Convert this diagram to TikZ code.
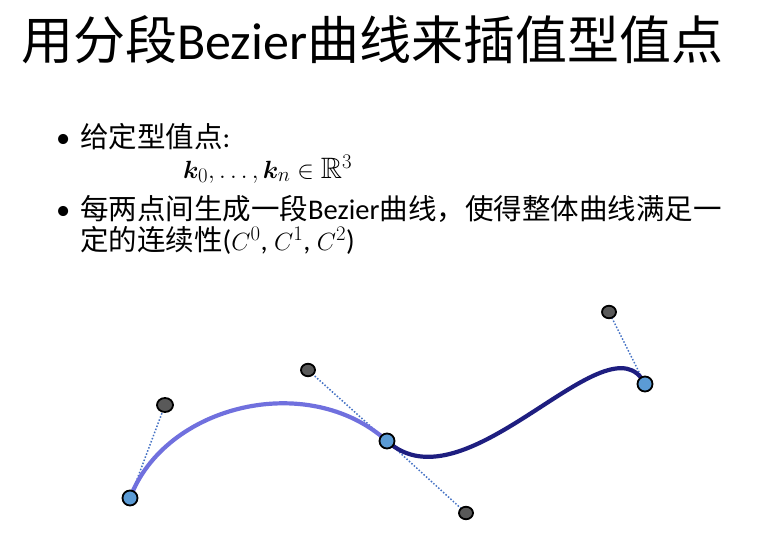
\documentclass[tikz,border=0pt]{standalone}
\usepackage{amsmath}
\usepackage{amssymb}
\usepackage{bm}
\usepackage{fontspec}
\setmainfont{Carlito}
\newfontfamily\cjk{Noto Sans CJK SC}
\usepackage{xcolor}
\definecolor{segLight}{HTML}{7070DE}
\definecolor{segDark}{HTML}{1E1E80}
\definecolor{knotBlue}{HTML}{5B9BD5}
\definecolor{ctrlGray}{HTML}{595959}
\definecolor{handleBlue}{HTML}{4472C4}
\usepackage{tikz}
\usetikzlibrary{shapes.geometric}

\begin{document}
\begin{tikzpicture}[x=1pt, y=-1pt,
    knot/.style={circle, draw=black, line width=1.8pt, fill=knotBlue, minimum size=15pt, inner sep=0pt},
    ctrl/.style={ellipse, draw=black, line width=1.8pt, fill=ctrlGray, minimum width=14pt, minimum height=12.5pt, inner sep=0pt},
    handle/.style={handleBlue, line width=1.5pt, dash pattern=on 1.5pt off 1.8pt},
    bodytext/.style={anchor=base west, inner sep=0pt, font=\fontsize{28.5}{31}\selectfont}]
  \useasboundingbox (0,0) rectangle (780,549);
  % title
  \node[anchor=base west, inner sep=0pt, font=\fontsize{52}{52}\selectfont] (title) at (21,59)
    {{\cjk 用分段}Bezier{\cjk 曲线来插值型值点}};
  % bullets
  \node[bodytext] (dot1) at (56,147) {•};
  \node[bodytext] (line1) at (80,147) {{\cjk 给定型值点}:};
  \node[bodytext, font=\fontsize{29.5}{31}\selectfont] (knots) at (183,178)
    {$\bm{k}_0, \ldots, \bm{k}_n \in \mathbb{R}^3$};
  \node[bodytext] (dot2) at (56,219) {•};
  \node[bodytext] (line2) at (80,219)
    {{\cjk 每两点间生成一段}Bezier{\cjk 曲线，使得整体曲线满足一}};
  \node[bodytext] (line3) at (80,250)
    {{\cjk 定的连续性}($C^0$, $C^1$, $C^2$)};
  % knots and control points
  \coordinate (p0) at (130,498);
  \coordinate (c1) at (165,405);
  \coordinate (c2) at (308,370);
  \coordinate (p1) at (387,441);
  \coordinate (c3) at (466,513);
  \coordinate (c4) at (609,312);
  \coordinate (p2) at (645,384);
  % handles
  \draw[handle] (p0) -- (c1);
  \draw[handle] (p1) -- (c2);
  \draw[handle] (p1) -- (c3);
  \draw[handle] (p2) -- (c4);
  % the two segments
  \draw[segLight, line width=4.2pt] (p0) .. controls (c1) and (c2) .. (p1);
  \draw[segDark, line width=4.2pt] (p1) .. controls (c3) and (c4) .. (p2);
  \foreach \p in {p0,p1,p2}
    \node[knot] (\p-dot) at (\p) {};
  \foreach \c in {c2,c3,c4}
    \node[ctrl] (\c-dot) at (\c) {};
  \node[ctrl, minimum width=16pt, minimum height=14pt] (c1-dot) at (c1) {};
\end{tikzpicture}
\end{document}
